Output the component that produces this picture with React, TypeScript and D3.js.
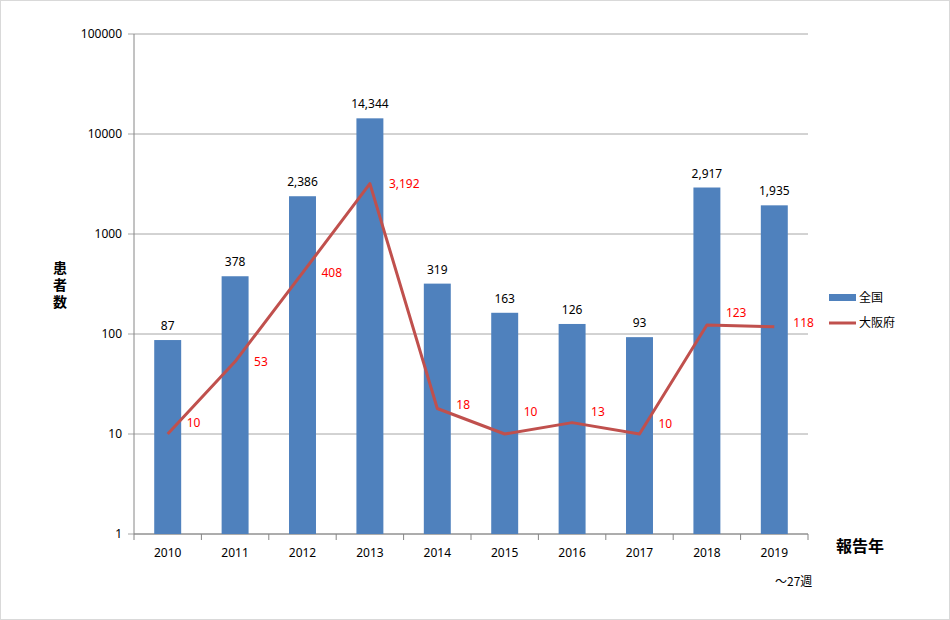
import React from "react";
import * as d3 from "d3";

const years = ["2010", "2011", "2012", "2013", "2014", "2015", "2016", "2017", "2018", "2019"];
const national = [87, 378, 2386, 14344, 319, 163, 126, 93, 2917, 1935];
const osaka = [10, 53, 408, 3192, 18, 10, 13, 10, 123, 118];
const yTicks = [1, 10, 100, 1000, 10000, 100000];
const osakaLabelDy = [-11, 0, 0, 0, -4, -22, -11, -10, -12, -4];
const seriesNames = ["全国", "大阪府"];
const yTitle = "患者数";

const W = 950, H = 620;
const left = 134, right = 808, top = 34, bottom = 534;
const font = "'Noto Sans', 'Noto Sans CJK JP', sans-serif";
const cjk = "'Noto Sans CJK JP', sans-serif";

export default function App() {
  const x = d3.scaleBand<string>().domain(years).range([left, right]).paddingInner(0.6).paddingOuter(0.3);
  const xc = (y: string) => (x(y) as number) + x.bandwidth() / 2;
  const y = d3.scaleLog().domain([1, 100000]).range([bottom, top]);
  const step = (right - left) / years.length;
  const line = d3.line<number>().x((_, i) => xc(years[i])).y((d) => y(d));
  const fmt = d3.format(",");

  return (
    <svg width={W} height={H} style={{ position: "absolute", left: 0, top: 0, background: "#fff" }}>
      <rect x={0.5} y={0.5} width={W - 1} height={H - 1} fill="#fff" stroke="#d9d9d9" />
      {yTicks.map((t) => (
        <g key={t}>
          <line x1={left - 6} x2={right} y1={y(t)} y2={y(t)} stroke="#a6a6a6" strokeWidth={1} />
          <text x={left - 12} y={y(t)} dy="0.35em" textAnchor="end" fontSize={12} fontFamily={font} fill="#000">{t}</text>
        </g>
      ))}
      <line x1={left} x2={left} y1={top} y2={bottom} stroke="#868686" />
      <line x1={left} x2={right} y1={bottom} y2={bottom} stroke="#868686" />
      {d3.range(years.length + 1).map((i) => (
        <line key={i} x1={left + i * step} x2={left + i * step} y1={bottom} y2={bottom + 6} stroke="#868686" />
      ))}
      {years.map((yr) => (
        <text key={yr} x={xc(yr)} y={bottom + 23} textAnchor="middle" fontSize={12} fontFamily={font} fill="#000">{yr}</text>
      ))}
      {national.map((v, i) => (
        <g key={i}>
          <rect x={x(years[i])} y={y(v)} width={x.bandwidth()} height={bottom - y(v)} fill="#4F81BD" />
          <text x={xc(years[i])} y={y(v) - 10} textAnchor="middle" fontSize={12} fontFamily={font} fill="#000">{fmt(v)}</text>
        </g>
      ))}
      <path d={line(osaka) || ""} fill="none" stroke="#C0504D" strokeWidth={3} strokeLinejoin="round" />
      {osaka.map((v, i) => (
        <text key={i} x={xc(years[i]) + 19} y={y(v) + osakaLabelDy[i]} dy="0.35em" fontSize={12} fontFamily={font} fill="#FF0000">{fmt(v)}</text>
      ))}
      <text x={60} y={261} fontFamily={cjk} fontSize={14} fontWeight="bold" fill="#000"
        style={{ writingMode: "vertical-rl", textOrientation: "upright", letterSpacing: "3px" }}>{yTitle}</text>
      <text x={836} y={552} fontFamily={cjk} fontSize={16} fontWeight="bold" fill="#000">報告年</text>
      <text x={775} y={586} fontFamily={cjk} fontSize={12} fill="#000">～27週</text>
      <rect x={829} y={294} width={27} height={7} fill="#4F81BD" />
      <text x={859} y={297.5} dy="0.35em" fontFamily={cjk} fontSize={12} fill="#000">{seriesNames[0]}</text>
      <line x1={829} x2={856} y1={323} y2={323} stroke="#C0504D" strokeWidth={3} />
      <text x={859} y={323} dy="0.35em" fontFamily={cjk} fontSize={12} fill="#000">{seriesNames[1]}</text>
    </svg>
  );
}
